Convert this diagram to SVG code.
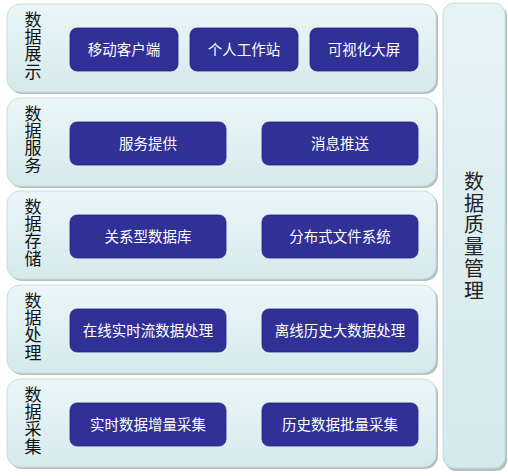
<svg xmlns="http://www.w3.org/2000/svg" width="508" height="476" viewBox="0 0 508 476">
<defs>
<linearGradient id="pg" x1="0" y1="0" x2="0" y2="1">
<stop offset="0" stop-color="#ebf6f8"/>
<stop offset="1" stop-color="#d5eaec"/>
</linearGradient>
<linearGradient id="sg" x1="0" y1="0" x2="0" y2="1">
<stop offset="0" stop-color="#e6f3f5"/>
<stop offset="1" stop-color="#d3e9eb"/>
</linearGradient>
</defs>
<style>
.shadow{fill:#b3c0c1;}
.panel{fill:url(#pg);stroke:#c9dcdd;stroke-width:1;}
.side{fill:url(#sg);stroke:#c9dcdd;stroke-width:1;}
.btn{fill:#303096;stroke:#252580;stroke-width:0.8;}
.bt{fill:#ffffff;font-family:"Noto Sans CJK SC","Liberation Sans",sans-serif;font-size:14.5px;text-anchor:middle;}
.lab{fill:#111111;font-family:"Noto Sans CJK SC","Liberation Sans",sans-serif;font-size:17px;text-anchor:middle;}
.slab{fill:#222222;font-family:"Noto Sans CJK SC","Liberation Sans",sans-serif;font-size:20px;text-anchor:middle;}
</style>
<rect width="508" height="476" fill="#ffffff"/>

<g id="side-quality">
<rect class="shadow" x="445" y="5" width="62" height="466" rx="11"/>
<rect class="side" x="443" y="3" width="62" height="465" rx="11"/>
<text class="slab"><tspan x="474" y="189">数</tspan><tspan x="474" dy="21.7">据</tspan><tspan x="474" dy="21.7">质</tspan><tspan x="474" dy="21.7">量</tspan><tspan x="474" dy="21.7">管</tspan><tspan x="474" dy="21.7">理</tspan></text>
</g>

<g id="layer-display">
<rect class="shadow" x="9" y="6" width="429" height="88" rx="13"/>
<rect class="panel" x="7" y="4" width="429" height="88" rx="13"/>
<text class="lab"><tspan x="33" y="26">数</tspan><tspan x="33" dy="17.2">据</tspan><tspan x="33" dy="17.2">展</tspan><tspan x="33" dy="17.2">示</tspan></text>
<g id="n-mobile"><rect class="btn" x="70" y="28" width="108" height="43" rx="7"/><text class="bt" x="124" y="55">移动客户端</text></g>
<g id="n-workstation"><rect class="btn" x="190" y="28" width="108" height="43" rx="7"/><text class="bt" x="244" y="55">个人工作站</text></g>
<g id="n-bigscreen"><rect class="btn" x="310" y="28" width="108" height="43" rx="7"/><text class="bt" x="364" y="55">可视化大屏</text></g>
</g>

<g id="layer-service">
<rect class="shadow" x="9" y="100" width="429" height="88" rx="13"/>
<rect class="panel" x="7" y="98" width="429" height="88" rx="13"/>
<text class="lab"><tspan x="33" y="120">数</tspan><tspan x="33" dy="17.2">据</tspan><tspan x="33" dy="17.2">服</tspan><tspan x="33" dy="17.2">务</tspan></text>
<g id="n-service"><rect class="btn" x="70" y="122" width="156" height="43" rx="7"/><text class="bt" x="148" y="149">服务提供</text></g>
<g id="n-push"><rect class="btn" x="262" y="122" width="156" height="43" rx="7"/><text class="bt" x="340" y="149">消息推送</text></g>
</g>

<g id="layer-storage">
<rect class="shadow" x="9" y="193" width="429" height="88" rx="13"/>
<rect class="panel" x="7" y="191" width="429" height="88" rx="13"/>
<text class="lab"><tspan x="33" y="213">数</tspan><tspan x="33" dy="17.2">据</tspan><tspan x="33" dy="17.2">存</tspan><tspan x="33" dy="17.2">储</tspan></text>
<g id="n-rdb"><rect class="btn" x="70" y="215" width="156" height="43" rx="7"/><text class="bt" x="148" y="242">关系型数据库</text></g>
<g id="n-dfs"><rect class="btn" x="262" y="215" width="156" height="43" rx="7"/><text class="bt" x="340" y="242">分布式文件系统</text></g>
</g>

<g id="layer-processing">
<rect class="shadow" x="9" y="287" width="429" height="88" rx="13"/>
<rect class="panel" x="7" y="285" width="429" height="88" rx="13"/>
<text class="lab"><tspan x="33" y="307">数</tspan><tspan x="33" dy="17.2">据</tspan><tspan x="33" dy="17.2">处</tspan><tspan x="33" dy="17.2">理</tspan></text>
<g id="n-stream"><rect class="btn" x="70" y="309" width="156" height="43" rx="7"/><text class="bt" x="148" y="336">在线实时流数据处理</text></g>
<g id="n-batch"><rect class="btn" x="262" y="309" width="156" height="43" rx="7"/><text class="bt" x="340" y="336">离线历史大数据处理</text></g>
</g>

<g id="layer-collection">
<rect class="shadow" x="9" y="381" width="429" height="88" rx="13"/>
<rect class="panel" x="7" y="379" width="429" height="88" rx="13"/>
<text class="lab"><tspan x="33" y="401">数</tspan><tspan x="33" dy="17.2">据</tspan><tspan x="33" dy="17.2">采</tspan><tspan x="33" dy="17.2">集</tspan></text>
<g id="n-incr"><rect class="btn" x="70" y="403" width="156" height="43" rx="7"/><text class="bt" x="148" y="430">实时数据增量采集</text></g>
<g id="n-hist"><rect class="btn" x="262" y="403" width="156" height="43" rx="7"/><text class="bt" x="340" y="430">历史数据批量采集</text></g>
</g>

<g id="connectors"></g>
</svg>
